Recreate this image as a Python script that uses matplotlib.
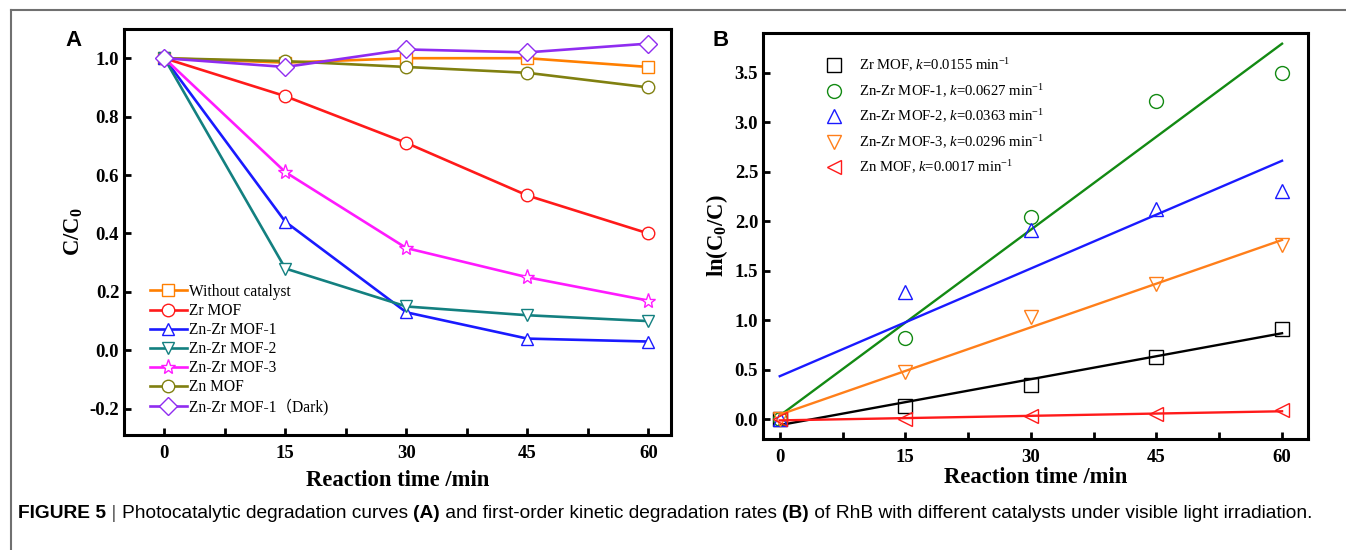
import numpy as np
import matplotlib
matplotlib.use("Agg")
import matplotlib.pyplot as plt
from matplotlib.ticker import MultipleLocator
from matplotlib.lines import Line2D

plt.rcParams['font.family'] = ['Liberation Serif', 'Noto Sans CJK SC', 'DejaVu Serif']
plt.rcParams['mathtext.fontset'] = 'custom'
plt.rcParams['mathtext.rm'] = 'Liberation Serif'
plt.rcParams['mathtext.it'] = 'Liberation Serif:italic'
plt.rcParams['mathtext.bf'] = 'Liberation Serif:bold'
plt.rcParams['axes.unicode_minus'] = False

# ---- data ----
time = [0, 15, 30, 45, 60]

# panel A: C/C0
a_labels = ["Without catalyst", "Zr MOF", "Zn-Zr MOF-1", "Zn-Zr MOF-2",
            "Zn-Zr MOF-3", "Zn MOF", "Zn-Zr MOF-1\uff08Dark)"]
without_cat = [1.0, 0.985, 1.0, 1.0, 0.97]
zr_mof = [1.0, 0.87, 0.71, 0.53, 0.40]
znzr_1 = [1.0, 0.44, 0.13, 0.04, 0.03]
znzr_2 = [1.0, 0.28, 0.15, 0.12, 0.10]
znzr_3 = [1.0, 0.61, 0.35, 0.25, 0.17]
zn_mof = [1.0, 0.99, 0.97, 0.95, 0.90]
znzr_1_dark = [1.0, 0.97, 1.03, 1.02, 1.05]
a_series = [without_cat, zr_mof, znzr_1, znzr_2, znzr_3, zn_mof, znzr_1_dark]
a_colors = ["#ff7f00", "#ff1a1a", "#1a1aff", "#138080", "#ff1aff", "#808010", "#8f2cf0"]
a_markers = ["s", "o", "^", "v", "*", "o", "D"]

# panel B: ln(C0/C)
b_labels = ["Zr MOF", "Zn-Zr MOF-1", "Zn-Zr MOF-2", "Zn-Zr MOF-3", "Zn MOF"]
b_k = ["0.0155", "0.0627", "0.0363", "0.0296", "0.0017"]
b_zr = [0.0, 0.13, 0.35, 0.63, 0.91]
b_znzr1 = [0.0, 0.82, 2.04, 3.21, 3.50]
b_znzr2 = [0.0, 1.28, 1.91, 2.12, 2.30]
b_znzr3 = [0.0, 0.48, 1.03, 1.37, 1.76]
b_zn = [0.0, 0.0, 0.03, 0.05, 0.09]
b_series = [b_zr, b_znzr1, b_znzr2, b_znzr3, b_zn]
b_colors = ["black", "#138a13", "#1a1aff", "#ff7f1a", "#ff1a1a"]
b_markers = ["s", "o", "^", "v", "<"]

fig = plt.figure(figsize=(13.46, 5.5), dpi=100)

# outer frame (top and left edges only)
fig.add_artist(Line2D([11/1346, 1], [1-10/550, 1-10/550], color="#707070", lw=1.5))
fig.add_artist(Line2D([11/1346, 11/1346], [0, 1-10/550], color="#707070", lw=1.5))


def style_axes(ax):
    for s in ax.spines.values():
        s.set_linewidth(2.2)
    ax.tick_params(which="both", direction="in", top=False, right=False,
                   width=2, labelsize=13.5)
    ax.tick_params(which="major", length=5)
    ax.tick_params(which="minor", length=5, left=False)
    ax.xaxis.set_major_locator(MultipleLocator(15))
    ax.xaxis.set_minor_locator(MultipleLocator(7.5))
    for lab in ax.get_xticklabels() + ax.get_yticklabels():
        lab.set_fontweight("bold")
    ax.tick_params(axis="x", pad=7)


# ---- panel A ----
axA = fig.add_axes([124/1346, 1-435/550, 547/1346, 406/550])
for ys, lab, c, m in zip(a_series, a_labels, a_colors, a_markers):
    ms = 11 if m == "*" else 9
    axA.plot(time, ys, color=c, lw=1.9, marker=m, ms=ms, mfc="white",
             mec=c, mew=1.0, label=lab)
axA.set_xlim(-5, 62.8)
axA.set_ylim(-0.29, 1.1)
axA.yaxis.set_major_locator(MultipleLocator(0.2))
style_axes(axA)
axA.set_xlabel("Reaction time /min", fontsize=16.3, fontweight="bold", labelpad=6)
axA.set_ylabel(r"C/C$_\mathbf{0}$", fontsize=16.3, fontweight="bold", labelpad=3)
axA.legend(loc="lower left", bbox_to_anchor=(0.03, 0.025), frameon=False,
           fontsize=11.2, handlelength=2.4, handletextpad=0.15, labelspacing=0.2,
           borderaxespad=0.2)
fig.text(65/1346, 1-40/550, "A", fontsize=16, fontweight="bold",
         family="Liberation Sans", va="center")

# ---- panel B ----
axB = fig.add_axes([763/1346, 1-439/550, 545/1346, 406/550])
xs = np.array(time, dtype=float)
handles = []
for ys, lab, k, c, m in zip(b_series, b_labels, b_k, b_colors, b_markers):
    h, = axB.plot(time, ys, ls="none", marker=m, ms=10, mfc="none", mec=c, mew=1.0,
                  label=lab + r", $k$=" + k + r" min$^{\mathrm{-1}}$")
    handles.append(h)
    slope, icpt = np.polyfit(xs, ys, 1)
    axB.plot(xs[[0, -1]], slope * xs[[0, -1]] + icpt, color=c, lw=1.7)
axB.set_xlim(-2.0, 63.1)
axB.set_ylim(-0.2, 3.9)
axB.yaxis.set_major_locator(MultipleLocator(0.5))
style_axes(axB)
axB.set_xlabel("Reaction time /min", fontsize=16.3, fontweight="bold", labelpad=1)
axB.set_ylabel(r"ln(C$_\mathbf{0}$/C)", fontsize=16.3, fontweight="bold", labelpad=3)
axB.legend(handles=handles, loc="upper left", bbox_to_anchor=(0.09, 0.975),
           frameon=False, fontsize=10.6, handlelength=1.2, handletextpad=1.1,
           labelspacing=0.55)
fig.text(712/1346, 1-40/550, "B", fontsize=16, fontweight="bold",
         family="Liberation Sans", va="center")

# ---- caption with mixed weights ----
pieces = [("FIGURE 5", "bold", "black"), (" | ", "normal", "#555555"),
          ("Photocatalytic degradation curves ", "normal", "black"),
          ("(A)", "bold", "black"),
          (" and first-order kinetic degradation rates ", "normal", "black"),
          ("(B)", "bold", "black"),
          (" of RhB with different catalysts under visible light irradiation.",
           "normal", "black")]
renderer = fig.canvas.get_renderer()
x = 18 / 1346
for txt, w, c in pieces:
    t = fig.text(x, 1 - 513/550, txt, fontsize=13.8, fontweight=w, color=c,
                 family="Liberation Sans", va="center")
    bb = t.get_window_extent(renderer=renderer)
    x = bb.x1 / fig.bbox.width

fig.savefig("out.png", dpi=100)
